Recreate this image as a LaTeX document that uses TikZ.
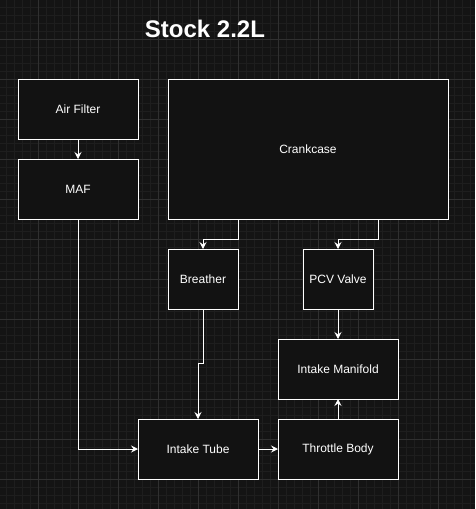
\documentclass[tikz,border=0pt]{standalone}
\usepackage{fontspec}
\setmainfont{Liberation Sans}
\usetikzlibrary{positioning, arrows.meta}
\definecolor{dkbg}{HTML}{141414}
\definecolor{dkbox}{HTML}{121212}
\definecolor{gridmajor}{HTML}{303030}
\definecolor{gridminor}{HTML}{1E1E1E}

\begin{document}
\begin{tikzpicture}[x=1pt, y=-1pt,
    block/.style={draw=white, fill=dkbox, line width=1pt, text=white,
                  font=\fontsize{12}{14}\selectfont, inner sep=0pt, outer sep=0pt,
                  minimum width=120pt, minimum height=60pt},
    flow/.style={draw=white, line width=1pt,
                 -{Stealth[length=7pt, width=7pt, inset=2.5pt]}}]
  % background and grid
  \fill[dkbg] (0,0) rectangle (475,509);
  \useasboundingbox (0,0) rectangle (475,509);
  \foreach \gx in {6,14,...,470} \draw[gridminor, line width=1pt] (\gx,0) -- (\gx,509);
  \foreach \gy in {7,15,...,503} \draw[gridminor, line width=1pt] (0,\gy) -- (475,\gy);
  \foreach \gx in {38,78,...,438} \draw[gridmajor, line width=1pt] (\gx,0) -- (\gx,509);
  \foreach \gy in {39,79,...,479} \draw[gridmajor, line width=1pt] (0,\gy) -- (475,\gy);

  \node[text=white, font=\bfseries\fontsize{24}{28}\selectfont, anchor=base] (title) at (205,37) {Stock 2.2L};

  % blocks
  \node[block] (airfilter) at (78,109) {Air Filter};
  \node[block] (maf) at (78,189) {MAF};
  \node[block, minimum width=280pt, minimum height=140pt] (crankcase) at (308,149) {Crankcase};
  \node[block, minimum width=70pt] (breather) at (203,279) {Breather};
  \node[block, minimum width=70pt] (pcv) at (338,279) {PCV Valve};
  \node[block] (manifold) at (338,369) {Intake Manifold};
  \node[block] (tube) at (198,449) {Intake Tube};
  \node[block] (throttle) at (338,449) {Throttle Body};

  % connectors
  \draw[flow] (airfilter) -- (maf);
  \draw[flow] ([xshift=-70pt]crankcase.south) -- ++(0,20) -| (breather.north);
  \draw[flow] ([xshift=70pt]crankcase.south) -- ++(0,20) -| (pcv.north);
  \draw[flow] (pcv) -- (manifold);
  \draw[flow] (breather.south) -- ++(0,54) -| (tube.north);
  \draw[flow] (maf.south) |- (tube.west);
  \draw[flow] (tube) -- (throttle);
  \draw[flow] (throttle) -- (manifold);
\end{tikzpicture}
\end{document}
